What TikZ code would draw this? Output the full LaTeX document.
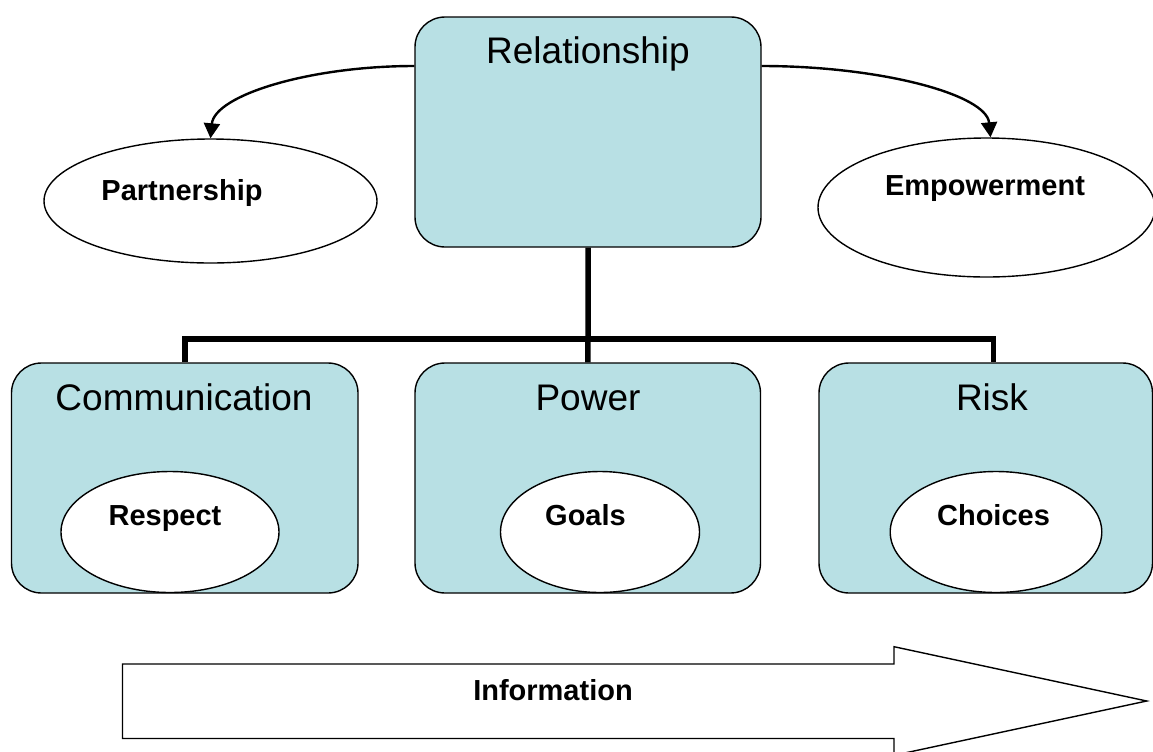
\documentclass[tikz,border=0pt]{standalone}
\usepackage{fontspec}
\setmainfont{Liberation Sans}
\usetikzlibrary{shapes.geometric, arrows.meta}

\definecolor{boxblue}{RGB}{184,224,228}
\newcommand\boxfont{\fontsize{18.5}{22}\selectfont}
\newcommand\ovalfont{\fontsize{14.5}{17}\selectfont\bfseries}

\begin{document}
\begin{tikzpicture}[x=.5pt, y=-.5pt,
    box/.style={draw, line width=.7pt, fill=boxblue, rounded corners=15pt,
                minimum height=115pt, inner sep=0},
    oval/.style={draw, ellipse, line width=.7pt, fill=white, inner sep=0},
    head/.style={font=\boxfont, anchor=base, inner sep=0},
    tag/.style={font=\ovalfont, anchor=base, inner sep=0},
    link/.style={line width=1.2pt, -{Triangle[length=7.5pt,width=8pt]}},
    bus/.style={line width=2.75pt}]

    \useasboundingbox (0,0) rectangle (1153,751);

    % top box and the two ovals beside it
    \node[box, minimum width=173pt] (rel) at (588,132) {};
    \node[head] (relt) at (588,63) {Relationship};

    \node[oval, minimum width=166.5pt, minimum height=62pt] (part) at (210.5,201) {};
    \node[tag] (partt) at (182,200) {Partnership};

    \node[oval, minimum width=168.5pt, minimum height=69.5pt] (emp) at (986.5,207.5) {};
    \node[tag] (empt) at (985,195) {Empowerment};

    \draw[link] ([yshift=33pt]rel.west) .. controls +(-105,0) and +(4,-43) .. (part.north);
    \draw[link] ([yshift=33pt]rel.east) .. controls +(118,0) and +(-4,-43) .. ([xshift=2pt]emp.north);

    % bottom row
    \node[box, minimum width=173.25pt] (com) at (184.75,478) {};
    \node[box, minimum width=172.75pt] (pow) at (587.75,478) {};
    \node[box, minimum width=166.75pt] (risk) at (985.75,478) {};

    \node[head] (comt) at (184,410) {Communication};
    \node[head] (powt) at (588,410) {Power};
    \node[head] (riskt) at (992,410) {Risk};

    \node[oval, minimum width=109pt, minimum height=60.5pt] (resp) at (170,532) {};
    \node[oval, minimum width=99.5pt, minimum height=60.5pt] (goal) at (600,532) {};
    \node[oval, minimum width=105.8pt, minimum height=60.5pt] (choice) at (996,532) {};

    \node[tag] (respt) at (165,525) {Respect};
    \node[tag] (goalt) at (585.5,525) {Goals};
    \node[tag] (choicet) at (993.5,525) {Choices};

    % bus from the top box down to the three boxes
    \coordinate (bus) at (588,339);
    \draw[bus] (rel.south) -- (bus) -- (pow.north);
    \draw[bus] (com.north) |- (bus) -| ([xshift=3.75pt]risk.north);

    % block arrow along the bottom
    \draw[line width=.7pt, fill=white]
        (122.5,664) -- (894,664) -- (894,646.7) -- (1146.7,701)
        -- (894,755.3) -- (894,738.5) -- (122.5,738.5) -- cycle;
    \node[tag] (info) at (553,700) {Information};

\end{tikzpicture}
\end{document}
